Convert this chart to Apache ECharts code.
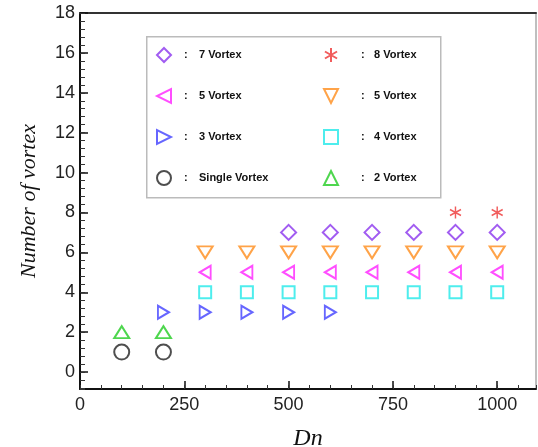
<!DOCTYPE html>
<html>
<head>
<meta charset="utf-8">
<script src="https://cdn.jsdelivr.net/npm/echarts@6/dist/echarts.min.js"></script>
<style>html,body{margin:0;padding:0;background:#fff}#c{width:538px;height:447px}</style>
</head>
<body>
<div id="c"></div>
<script>
// Data
const xTicks = [0, 250, 500, 750, 1000];
const yTicks = [0, 2, 4, 6, 8, 10, 12, 14, 16, 18];

const dnSingle = [100, 200];           const vSingle = [1, 1];
const dn2 = [100, 200];                const v2 = [2, 2];
const dn3 = [200, 300, 400, 500, 600]; const v3 = [3, 3, 3, 3, 3];
const dn4 = [300, 400, 500, 600, 700, 800, 900, 1000]; const v4 = [4, 4, 4, 4, 4, 4, 4, 4];
const dn5a = [300, 400, 500, 600, 700, 800, 900, 1000]; const v5a = [5, 5, 5, 5, 5, 5, 5, 5];
const dn5b = [300, 400, 500, 600, 700, 800, 900, 1000]; const v5b = [6, 6, 6, 6, 6, 6, 6, 6];
const dn7 = [500, 600, 700, 800, 900, 1000]; const v7 = [7, 7, 7, 7, 7, 7];
const dn8 = [900, 1000];               const v8 = [8, 8];

const pairs = (xs, ys) => xs.map((x, i) => [x, ys[i]]);
const clear = 'rgba(255,255,255,0)';
const asterisk = 'path://M5,0L5,10M0.67,2.5L9.33,7.5M0.67,7.5L9.33,2.5';
const triLeft = 'path://M10,0L10,10L0,5Z';
const triRight = 'path://M0,0L0,10L10,5Z';
const triDown = 'path://M0,0L10,0L5,10Z';
const triUp = 'path://M0,10L10,10L5,0Z';

function sc(name, data, symbol, size, color, bw) {
  return {
    name: name, type: 'scatter', data: data, symbol: symbol, symbolSize: size,
    itemStyle: { color: clear, borderColor: color, borderWidth: bw || 2 },
    emphasis: { disabled: true }, z: 5
  };
}

const series = [
  sc('7 Vortex', pairs(dn7, v7), 'diamond', [15, 15], '#8a33ee'),
  sc('5 Vortex', pairs(dn5a, v5a), triLeft, [11, 13], '#ff22ff'),
  sc('3 Vortex', pairs(dn3, v3), triRight, [11, 13], '#4040ff'),
  sc('Single Vortex', pairs(dnSingle, vSingle), 'circle', 15, '#222222', 2),
  sc('8 Vortex', pairs(dn8, v8), asterisk, [11, 12], '#ee3333', 1.5),
  sc('5 Vortex ', pairs(dn5b, v5b), triDown, [15, 12], '#ff8c1a'),
  sc('4 Vortex', pairs(dn4, v4), 'rect', [12, 12], '#22e8e8'),
  sc('2 Vortex', pairs(dn2, v2), triUp, [15, 12], '#22cc22')
];

const legendText = (aw, cw) => ({
  fontFamily: 'Liberation Sans, Arial, sans-serif', fontSize: 11, fontWeight: 'bold', color: '#111',
  rich: {
    a: { width: aw },
    c: { width: cw, fontSize: 11, fontWeight: 'bold', color: '#111', fontFamily: 'Liberation Sans, Arial, sans-serif' },
    t: { fontSize: 11, fontWeight: 'bold', color: '#111', fontFamily: 'Liberation Sans, Arial, sans-serif' }
  }
});
const fmt = name => '{a| }{c|:}{t|' + name.trim() + '}';

const axisFont = { fontFamily: 'Liberation Sans, Arial, sans-serif', fontSize: 18, color: '#222' };

const option = {
  animation: false,
  backgroundColor: '#fff',
  grid: { left: 80, top: 13, right: 2, bottom: 58, containLabel: false, outerBoundsMode: 'none' },
  graphic: [{
    type: 'rect', left: 146, top: 36, z: 3,
    shape: { width: 294, height: 161 },
    style: { fill: '#fff', stroke: '#bbbbbb', lineWidth: 1.5 }
  }],
  legend: [{
    data: ['7 Vortex', '5 Vortex', '3 Vortex', 'Single Vortex'],
    orient: 'vertical', left: 156, top: 47, padding: 0, itemGap: 25,
    itemWidth: 14, itemHeight: 14, z: 5, selectedMode: false,
    formatter: fmt, textStyle: legendText(8, 15)
  }, {
    data: ['8 Vortex', '5 Vortex ', '4 Vortex', '2 Vortex'],
    orient: 'vertical', left: 323, top: 47, padding: 0, itemGap: 25,
    itemWidth: 14, itemHeight: 14, z: 5, selectedMode: false,
    formatter: fmt, textStyle: legendText(18, 13)
  }],
  xAxis: [{
    type: 'value', min: 0, max: 1093, interval: 250, position: 'bottom',
    name: 'Dn', nameLocation: 'middle', nameGap: 38,
    nameTextStyle: { fontFamily: 'Liberation Serif, Times New Roman, serif', fontStyle: 'italic', fontSize: 24, color: '#111' },
    axisLine: { show: true, onZero: false, lineStyle: { color: '#111', width: 2 } },
    axisTick: { inside: true, length: 8, lineStyle: { color: '#111', width: 1.5 } },
    axisLabel: Object.assign({ margin: 7, showMaxLabel: false,
      formatter: v => (xTicks.indexOf(v) >= 0 ? String(v) : '') }, axisFont),
    splitLine: { show: false }
  }, {
    type: 'value', min: 0, max: 1093, interval: 50, position: 'bottom',
    axisLine: { show: false, onZero: false },
    axisTick: { inside: true, length: 4, lineStyle: { color: '#333', width: 1 } },
    axisLabel: { show: false }, splitLine: { show: false }
  }, {
    type: 'value', min: 0, max: 1093, position: 'top',
    axisLine: { show: true, onZero: false, lineStyle: { color: '#333', width: 2 } },
    axisTick: { show: false }, axisLabel: { show: false }, splitLine: { show: false }
  }],
  yAxis: [{
    type: 'value', min: -0.85, max: 18, minInterval: 2, maxInterval: 2, splitNumber: 9,
    position: 'left',
    name: 'Number of vortex', nameLocation: 'middle', nameGap: 40,
    nameTextStyle: { fontFamily: 'Liberation Serif, Times New Roman, serif', fontStyle: 'italic', fontSize: 22, color: '#111' },
    axisLine: { show: true, onZero: false, lineStyle: { color: '#111', width: 2 } },
    axisTick: { inside: true, length: 8, lineStyle: { color: '#111', width: 1.5 } },
    axisLabel: Object.assign({ margin: 5, showMinLabel: false,
      formatter: v => (yTicks.indexOf(v) >= 0 ? String(v) : '') }, axisFont),
    splitLine: { show: false }
  }, {
    type: 'value', min: -0.85, max: 18, minInterval: 0.4, maxInterval: 0.4, splitNumber: 45,
    position: 'left',
    axisLine: { show: false, onZero: false },
    axisTick: { inside: true, length: 5, lineStyle: { color: '#333', width: 1 } },
    axisLabel: { show: false }, splitLine: { show: false }
  }, {
    type: 'value', min: -0.85, max: 18, position: 'right',
    axisLine: { show: true, onZero: false, lineStyle: { color: '#aaaaaa', width: 1.5 } },
    axisTick: { show: false }, axisLabel: { show: false }, splitLine: { show: false }
  }],
  series: series
};

const chart = echarts.init(document.getElementById('c'), null, { renderer: 'canvas' });
chart.setOption(option);
</script>
</body>
</html>
